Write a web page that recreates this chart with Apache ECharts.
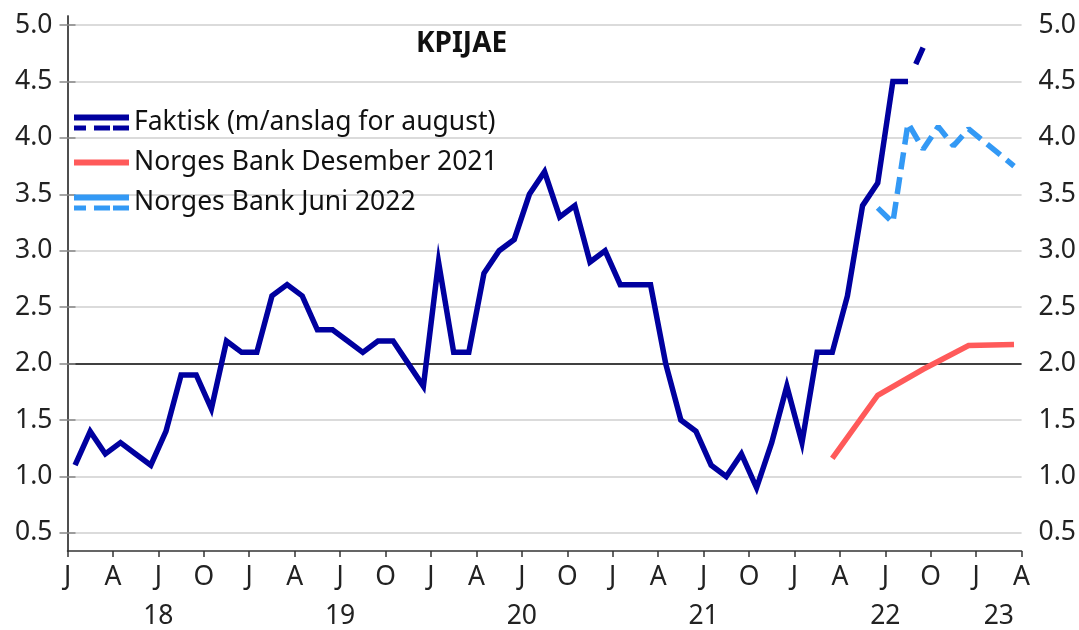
<!DOCTYPE html>
<html>
<head>
<meta charset="utf-8">
<script src="https://cdn.jsdelivr.net/npm/echarts@6/dist/echarts.min.js"></script>
<style>
html,body{margin:0;padding:0;background:#fff;}
#chart{width:1079px;height:630px;}
</style>
</head>
<body>
<div id="chart"></div>
<script>
// månedsindeks: 0 = januar 2018
var faktiskVerdier = [
    1.1,1.4,1.2,1.3,1.2,1.1,1.4,1.9,1.9,1.6,2.2,2.1,
    2.1,2.6,2.7,2.6,2.3,2.3,2.2,2.1,2.2,2.2,2.0,1.8,
    2.9,2.1,2.1,2.8,3.0,3.1,3.5,3.7,3.3,3.4,2.9,3.0,
    2.7,2.7,2.7,2.0,1.5,1.4,1.1,1.0,1.2,0.9,1.3,1.8,
    1.3,2.1,2.1,2.6,3.4,3.6,4.5,4.5
];
var anslagMnd = [55,56];
var anslagVerdier = [4.5,4.8];
var desMnd = [50,53,56,59,62];
var desVerdier = [1.16,1.72,1.95,2.16,2.17];
var juniMnd = [53,54,55,56,57,58,59,60,61,62];
var juniVerdier = [3.38,3.25,4.13,3.9,4.1,3.93,4.08,3.97,3.86,3.75];
var yTicks = [0.5,1.0,1.5,2.0,2.5,3.0,3.5,4.0,4.5,5.0];
var mndBokstav = ['J','A','J','O'];
var aarPos = [6,18,30,42,54,61.5];
var aarTekst = ['18','19','20','21','22','23'];

var MORK = '#00009f', ROD = '#ff5a5a', LYS = '#3399f5';
var FONT = 'Noto Sans';
var FS = 26.5;

function par(mnd, verdier){
    var ut = [];
    for(var i=0;i<verdier.length;i++){
        ut.push([mnd[i]+0.5, verdier[i]]);
    }
    return ut;
}
var faktiskMnd = [];
for(var i=0;i<faktiskVerdier.length;i++){ faktiskMnd.push(i); }

var splitFarger = yTicks.map(function(v){ return v===2.0 ? '#000' : '#cfcfcf'; });

var yAkse = function(pos, margin){
    return {
        type:'value', position:pos, min:0.34, max:5.08,
        axisLine:{show:true, lineStyle:{color:'#444', width:1.5}},
        axisTick:{show:true, length:8, customValues:yTicks, lineStyle:{color:'#888', width:1.5}},
        axisLabel:{customValues:yTicks, margin:margin, fontSize:FS, fontFamily:FONT, color:'#222',
            formatter:function(v){ return v.toFixed(1); }},
        splitLine:{show: pos==='left', lineStyle:{color:splitFarger, width:1.5}}
    };
};

var chart = echarts.init(document.getElementById('chart'));
chart.setOption({
    animation:false,
    title:{
        text:'KPIJAE', left:411, top:25,
        textStyle:{fontSize:28, fontWeight:'bold', fontFamily:FONT, color:'#111'}
    },
    legend:{
        left:74, top:109, orient:'vertical', padding:0, itemGap:13,
        itemWidth:55, itemHeight:16,
        textStyle:{fontSize:FS, fontFamily:FONT, color:'#111', lineHeight:27},
        itemStyle:{borderWidth:0},
        data:[
            {name:'Faktisk (m/anslag for august)', icon:'path://M0,0H55V6H0Z M0,11H12V16H0Z M20,11H36V16H20Z M39,11H55V16H39Z'},
            {name:'Norges Bank Desember 2021', icon:'path://M0,0 M0,16 M0,5H55V11H0Z'},
            {name:'Norges Bank Juni 2022', icon:'path://M0,0H55V6H0Z M0,11H12V16H0Z M20,11H36V16H20Z M39,11H55V16H39Z'}
        ]
    },
    grid:{left:67.5, right:52, top:16, bottom:78},
    xAxis:[{
        type:'value', min:0, max:63, interval:3,
        axisLine:{show:true, onZero:false, lineStyle:{color:'#333', width:1.5}},
        axisTick:{show:true, length:6, lineStyle:{color:'#333', width:1.5}},
        axisLabel:{margin:13, fontSize:FS, fontFamily:FONT, color:'#222',
            formatter:function(v){ return mndBokstav[Math.round(v/3)%4]; }},
        splitLine:{show:false}
    },{
        type:'value', min:0, max:63, position:'bottom', offset:39,
        axisLine:{show:false}, axisTick:{show:false}, splitLine:{show:false},
        axisLabel:{customValues:aarPos, margin:13, fontSize:FS, fontFamily:FONT, color:'#222',
            formatter:function(v){ return aarTekst[aarPos.indexOf(v)]; }}
    }],
    yAxis:[yAkse('left',15), yAkse('right',17)],
    series:[
        {
            name:'Faktisk (m/anslag for august)', type:'line', data:par(faktiskMnd, faktiskVerdier),
            symbol:'none', color:MORK, lineStyle:{width:5.5, color:MORK, join:'miter'}, z:3
        },
        {
            name:'Faktisk anslag', type:'line', data:par(anslagMnd, anslagVerdier),
            symbol:'none', color:MORK, lineStyle:{width:5.5, color:MORK, type:[0,19,18,8]}, z:3
        },
        {
            name:'Norges Bank Desember 2021', type:'line', data:par(desMnd, desVerdier),
            symbol:'none', color:ROD, lineStyle:{width:5.5, color:ROD, join:'miter'}, z:3
        },
        {
            name:'Norges Bank Juni 2022', type:'line', data:par(juniMnd, juniVerdier),
            symbol:'none', color:LYS, lineStyle:{width:5.5, color:LYS, type:[17,8]}, z:3
        }
    ]
});
</script>
</body>
</html>
